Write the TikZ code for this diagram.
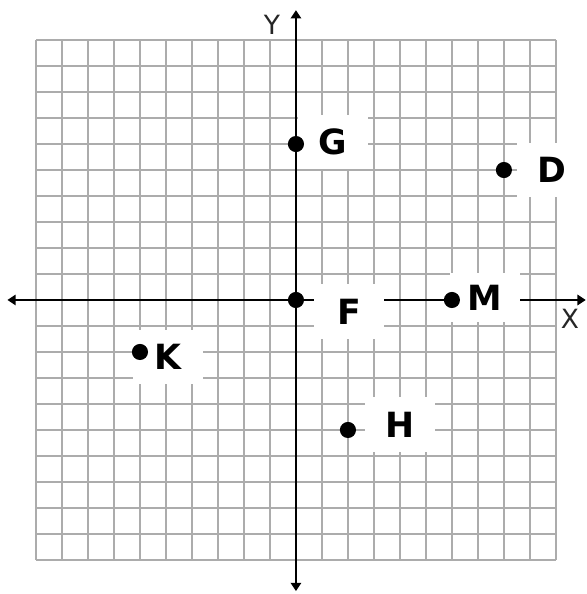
\documentclass[tikz,border=0pt]{standalone}
\usepackage{fontspec}
\setsansfont{DejaVu Sans}
\usepackage{tikz}
\usetikzlibrary{arrows.meta, positioning}

\begin{document}
\begin{tikzpicture}[
  x=0.5cm, y=0.5cm,
  gridline/.style={draw=gray!65, line width=0.9pt},
  axis/.style={draw=black, line width=1.1pt, -{Triangle[length=0.16cm, width=0.2cm]}},
  axislabel/.style={font=\sffamily\fontsize{14.5}{16}\selectfont, text=black!85},
  dot/.style={circle, fill=black, inner sep=0pt, minimum size=0.31cm},
  tag/.style={
    rectangle, fill=white, inner sep=0pt,
    minimum width=1.35cm, minimum height=1.05cm,
    font=\sffamily\bfseries\fontsize{19}{21}\selectfont,
  },
]
\useasboundingbox (-11.385,-11.31) rectangle (11.19,11.54);

% grid
\draw[gridline, step=0.5cm] (-10,-10) grid (10,10);

% axes
\coordinate (xleft)   at (-11.1,0);
\coordinate (xright)  at (11.15,0);
\coordinate (ybottom) at (0,-11.2);
\coordinate (ytop)    at (0,11.15);
\draw[axis] (0,0) -- (xright);
\draw[axis] (0,0) -- (xleft);
\draw[axis] (0,0) -- (ytop);
\draw[axis] (0,0) -- (ybottom);
\node[axislabel] (xlabel) at (10.54,-0.72) {X};
\node[axislabel] (ylabel) at (-0.92,10.6) {Y};

% point labels
\node[tag] (glabel) at (1.42,6.08)   {G};
\node[tag] (dlabel) at (9.85,5.0)    {D};
\node[tag] (flabel) at (2.04,-0.45)  {F};
\node[tag, minimum height=0.95cm] (mlabel) at (7.27,0.1) {M};
\node[tag] (klabel) at (-4.92,-2.2)  {K};
\node[tag] (hlabel) at (4.0,-4.8)    {H};

% points
\node[dot] (g) at (0,6)   {};
\node[dot] (d) at (8,5)   {};
\node[dot] (f) at (0,0)   {};
\node[dot] (m) at (6,0)   {};
\node[dot] (k) at (-6,-2) {};
\node[dot] (h) at (2,-5)  {};

\end{tikzpicture}
\end{document}
